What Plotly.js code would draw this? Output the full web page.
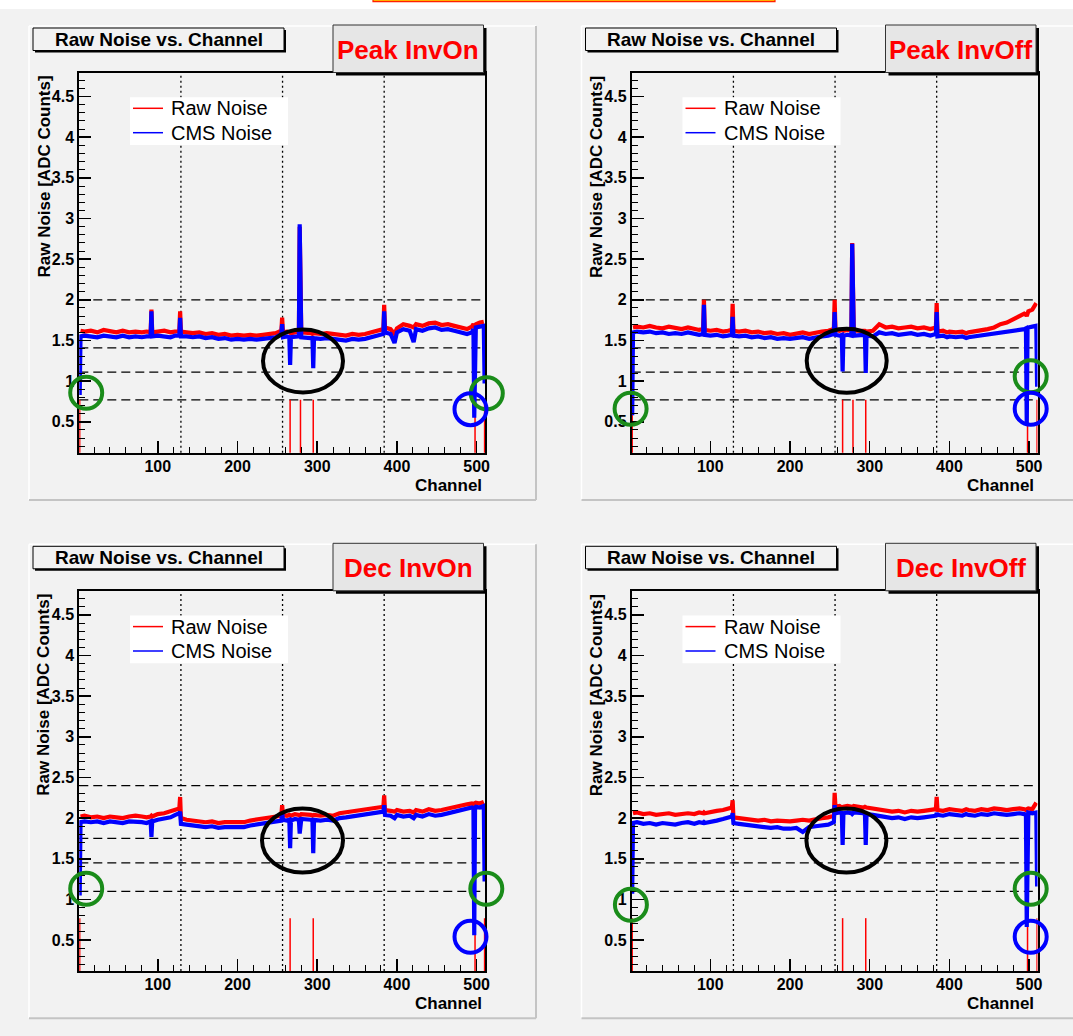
<!DOCTYPE html>
<html>
<head>
<meta charset="utf-8">
<script src="https://cdn.plot.ly/plotly-3.0.1.min.js"></script>
<style>
html,body{margin:0;padding:0;background:#f2f2f2;}
#chart{width:1073px;height:1036px;}
</style>
</head>
<body>
<div id="chart"></div>
<script>
// ---------------- DATA ----------------
const channels = [
  2,3,8,16,24,32,40,48,56,64,
  72,80,86,91,92,93,100,108,116,122,
  127,128,129,136,144,152,160,168,176,184,
  192,200,208,216,224,232,240,248,255,256,
  257,262,265,266,267,272,277,278,279,280,
  292,294,295,296,304,312,320,328,336,344,
  352,360,368,376,383,384,385,392,397,400,
  408,416,421,424,432,440,448,456,464,472,
  480,488,494,496,497,498,499,504,509,510];

const panelLabels = ["Peak InvOn", "Peak InvOff", "Dec InvOn", "Dec InvOff"];
const plotTitle = "Raw Noise vs. Channel";
const xTitle = "Channel";
const yTitle = "Raw Noise [ADC Counts]";
const seriesNames = ["Raw Noise", "CMS Noise"];

const rawPeakInvOn = [
  null,1.62,1.61,1.62,1.60,1.63,1.61,1.60,1.62,1.60,
  1.61,1.60,1.61,1.60,1.88,1.60,1.61,1.62,1.60,1.61,
  1.62,1.86,1.61,1.60,1.59,1.60,1.58,1.59,1.57,1.58,
  1.56,1.57,1.56,1.57,1.56,1.57,1.58,1.59,1.62,1.78,
  1.60,1.61,1.60,null,1.59,1.60,1.61,2.90,null,1.60,
  1.59,1.58,null,1.59,1.58,1.59,1.58,1.57,1.56,1.58,
  1.57,1.58,1.60,1.62,1.64,1.94,1.66,1.64,1.58,1.65,
  1.70,1.68,1.66,1.70,1.68,1.71,1.72,1.69,1.70,1.68,
  1.66,1.64,1.67,1.70,1.68,null,1.70,1.72,1.73,null];
const cmsPeakInvOn = [
  0.83,1.55,1.56,1.55,1.54,1.56,1.55,1.54,1.56,1.54,
  1.55,1.54,1.55,1.55,1.86,1.55,1.56,1.55,1.54,1.56,
  1.56,1.78,1.55,1.55,1.54,1.55,1.53,1.54,1.52,1.53,
  1.51,1.52,1.51,1.52,1.51,1.52,1.53,1.54,1.58,1.70,
  1.54,1.55,1.54,1.20,1.54,1.55,1.55,2.93,1.55,1.54,
  1.53,1.53,1.16,1.53,1.52,1.53,1.52,1.51,1.50,1.52,
  1.51,1.52,1.54,1.56,1.58,1.86,1.60,1.58,1.47,1.60,
  1.64,1.62,1.48,1.64,1.62,1.65,1.66,1.63,1.64,1.62,
  1.60,1.58,1.60,1.64,0.55,1.64,1.66,1.67,1.68,0.97];

const rawPeakInvOff = [
  null,1.66,1.67,1.66,1.68,1.66,1.65,1.67,1.65,1.64,
  1.66,1.65,1.63,1.64,2.00,1.63,1.62,1.63,1.61,1.62,
  1.63,1.95,1.62,1.61,1.62,1.60,1.61,1.59,1.60,1.58,
  1.59,1.57,1.59,1.60,1.58,1.60,1.61,1.62,1.64,2.00,
  1.63,1.62,1.63,null,1.62,1.63,1.62,2.70,null,1.62,
  1.63,1.62,null,1.61,1.62,1.70,1.66,1.67,1.65,1.66,
  1.67,1.65,1.66,1.64,1.66,1.96,1.61,1.62,1.60,1.61,
  1.60,1.61,1.59,1.60,1.61,1.62,1.64,1.66,1.70,1.72,
  1.76,1.79,1.83,1.82,1.80,null,1.86,1.88,1.96,null];
const cmsPeakInvOff = [
  0.58,1.60,1.61,1.60,1.61,1.59,1.60,1.58,1.59,1.58,
  1.60,1.58,1.57,1.58,1.94,1.57,1.56,1.57,1.55,1.56,
  1.57,1.79,1.56,1.55,1.56,1.54,1.55,1.53,1.54,1.52,
  1.53,1.52,1.53,1.54,1.52,1.54,1.55,1.56,1.58,1.85,
  1.57,1.56,1.57,1.12,1.56,1.57,1.56,2.69,1.57,1.56,
  1.57,1.56,1.10,1.56,1.55,1.60,1.58,1.59,1.57,1.58,
  1.59,1.57,1.58,1.56,1.58,1.85,1.55,1.56,1.54,1.55,
  1.54,1.55,1.53,1.54,1.55,1.56,1.57,1.58,1.60,1.61,
  1.62,1.63,1.64,1.65,0.46,1.64,1.66,1.67,1.68,0.93];

const rawDecInvOn = [
  null,2.02,2.03,2.01,2.02,2.00,2.02,2.01,2.00,2.02,
  2.03,2.02,2.01,2.02,2.03,2.02,2.05,2.06,2.08,2.10,
  2.12,2.26,2.00,1.98,1.97,1.96,1.95,1.96,1.94,1.95,
  1.95,1.96,1.95,1.97,1.98,1.99,2.00,2.01,2.03,2.16,
  2.04,2.03,2.04,null,2.03,2.05,2.04,2.03,2.04,2.05,
  2.04,2.03,null,2.04,2.03,2.04,2.03,2.06,2.07,2.08,
  2.09,2.10,2.12,2.13,2.14,2.28,2.10,2.09,2.08,2.10,
  2.08,2.09,2.07,2.10,2.08,2.11,2.09,2.10,2.12,2.13,
  2.15,2.17,2.18,2.17,2.18,null,2.19,2.18,2.20,null];
const cmsDecInvOn = [
  1.05,1.95,1.96,1.95,1.96,1.94,1.96,1.95,1.94,1.96,
  1.96,1.95,1.94,1.96,1.77,1.96,1.98,1.99,2.01,2.04,
  2.06,2.08,1.93,1.92,1.91,1.90,1.89,1.90,1.88,1.89,
  1.89,1.90,1.89,1.91,1.92,1.93,1.94,1.95,1.97,2.07,
  1.98,1.97,1.98,1.63,1.97,1.99,1.98,1.81,1.98,1.99,
  1.98,1.97,1.57,1.98,1.97,1.98,1.97,2.00,2.01,2.02,
  2.03,2.04,2.06,2.07,2.08,2.16,2.04,2.03,2.00,2.04,
  2.02,2.03,2.00,2.04,2.02,2.05,2.03,2.04,2.06,2.07,
  2.09,2.11,2.13,2.12,0.56,2.13,2.14,2.13,2.15,1.22];

const rawDecInvOff = [
  null,2.06,2.07,2.05,2.06,2.04,2.05,2.06,2.04,2.05,
  2.06,2.05,2.07,2.06,2.07,2.06,2.08,2.09,2.10,2.12,
  2.13,2.22,2.01,2.00,1.99,1.98,1.97,1.98,1.96,1.97,
  1.96,1.96,1.97,1.98,1.97,1.99,2.00,2.01,2.03,2.31,
  2.14,2.15,2.13,null,2.14,2.15,2.14,2.13,2.14,2.15,
  2.13,2.14,null,2.13,2.12,2.11,2.10,2.08,2.09,2.07,
  2.09,2.08,2.09,2.10,2.11,2.26,2.10,2.09,2.10,2.11,
  2.10,2.09,2.11,2.10,2.09,2.11,2.10,2.12,2.11,2.10,
  2.11,2.12,2.11,2.10,2.11,null,2.12,2.11,2.19,null];
const cmsDecInvOff = [
  1.07,1.94,1.95,1.93,1.94,1.92,1.94,1.93,1.92,1.94,
  1.95,1.93,1.95,1.94,1.95,1.94,1.96,1.97,1.99,2.01,
  2.02,2.06,1.94,1.93,1.92,1.91,1.90,1.89,1.88,1.89,
  1.87,1.87,1.88,1.83,1.89,1.90,1.91,1.92,1.95,2.16,
  2.06,2.07,2.06,1.67,2.06,2.07,2.06,2.05,2.06,2.07,
  2.06,2.05,1.67,2.05,2.04,2.03,2.02,2.00,2.01,1.99,
  2.01,2.00,2.01,2.02,2.03,2.06,2.04,2.03,2.04,2.05,
  2.04,2.03,2.05,2.04,2.03,2.05,2.04,2.06,2.05,2.04,
  2.05,2.06,2.05,2.04,0.66,2.06,2.07,2.06,2.07,1.16];

// dead (zero raw noise) channels and the height of their error bar
const deadPeakInvOn  = [2, 266, 279, 295, 498, 510];
const deadPeakInvOff = [2, 266, 279, 295, 498, 510];
const deadDecInvOn   = [2, 266, 295, 498, 510];
const deadDecInvOff  = [2, 266, 295, 498, 510];
const deadValue = 0;
const deadError = 0.77;

// horizontal cut levels and chip boundaries
const cutsPeak = [2.00, 1.41, 1.11, 0.77];
const cutsDec  = [2.40, 1.75, 1.45, 1.10];
const chipEdges = [129, 256.5, 384];

const xRange = [1.5, 510.5];
const yRange = [0.12, 4.79];

// ---------------- STYLE / LAYOUT ----------------
const W = 1073, H = 1036;
const X = p => p / W;
const Y = p => 1 - p / H;
const FONT = "Liberation Sans, Arial, Helvetica, sans-serif";
const RED = "#ff0000", BLUE = "#0000ff", GREEN = "#1a8c1a";

const panels = [
  {raw: rawPeakInvOn,  cms: cmsPeakInvOn,  dead: deadPeakInvOn,  cuts: cutsPeak, dx: 0,     dy: 0},
  {raw: rawPeakInvOff, cms: cmsPeakInvOff, dead: deadPeakInvOff, cuts: cutsPeak, dx: 552.5, dy: 0},
  {raw: rawDecInvOn,   cms: cmsDecInvOn,   dead: deadDecInvOn,   cuts: cutsDec,  dx: 0,     dy: 518.3},
  {raw: rawDecInvOff,  cms: cmsDecInvOff,  dead: deadDecInvOff,  cuts: cutsDec,  dx: 552.5, dy: 518.3}
];

// base geometry (top-left panel, pixels)
const frame = {L: 79.3, R: 485, T: 73, B: 452.7};
const pad = {L: 29, R: 536, T: 26, B: 500};
const titleBox = {L: 33, R: 284, T: 28, B: 50.5};
const labelBox = {L: 333, R: 483.5, T: 25, B: 72.5};
const legendBox = {L: 130, R: 288, T: 97.3, B: 145};

// highlight circles (pixels): [cx, cy, rx, ry, colour]
const circles = [
  [[86.2,392.8,16,16,GREEN],[486.8,393.3,16,16,GREEN],[470.5,409.2,16,16,BLUE],[303,361,40,31.5,"black"]],
  [[630.6,408.8,16,16,GREEN],[1030.7,376.3,16,16,GREEN],[1030.7,408.8,16,16,BLUE],[846.7,360.8,40,32,"black"]],
  [[86.2,888.8,16,16,GREEN],[486.3,888.8,16,16,GREEN],[470.5,936.8,16,16,BLUE],[302.5,840.5,40.5,32,"black"]],
  [[630.9,904.8,16,16,GREEN],[1030.7,888.8,16,16,GREEN],[1030.7,936.8,16,16,BLUE],[846.4,840.5,40,32,"black"]]
];

const traces = [];
const shapes = [];
const annotations = [];
const layout = {
  width: W, height: H,
  margin: {l: 0, r: 0, t: 0, b: 0},
  paper_bgcolor: "#f2f2f2",
  plot_bgcolor: "rgba(0,0,0,0)",
  showlegend: false,
  hovermode: false,
  font: {family: FONT, color: "black"}
};

function prect(L, T, R, B, fill, lineColor, lineWidth, layer) {
  shapes.push({type: "rect", xref: "paper", yref: "paper",
    x0: X(L), x1: X(R), y0: Y(B), y1: Y(T),
    fillcolor: fill, line: {color: lineColor || "rgba(0,0,0,0)", width: lineWidth || 0},
    layer: layer || "above"});
}
function pline(x0, y0, x1, y1, color, width, layer) {
  shapes.push({type: "line", xref: "paper", yref: "paper",
    x0: X(x0), x1: X(x1), y0: Y(y0), y1: Y(y1),
    line: {color: color, width: width}, layer: layer || "above"});
}

// page top strip and clipped header box
prect(0, -5, W, 9, "#ffffff", null, 0, "below");
prect(373, -8, 775, 1.7, "#ffb000", "#ff2000", 1.2, "below");

panels.forEach((p, i) => {
  const n = i === 0 ? "" : String(i + 1);
  const xa = "x" + n, ya = "y" + n;
  const dx = p.dx, dy = p.dy;

  const axCommon = {
    showgrid: false, zeroline: false, showline: true, linecolor: "black", linewidth: 2,
    mirror: true, ticks: "inside", ticklen: 12, tickwidth: 1.5, tickcolor: "black",
    tickfont: {family: FONT, size: 16, color: "black", weight: "bold"},
    fixedrange: true
  };
  layout["xaxis" + n] = Object.assign({}, axCommon, {
    domain: [X(frame.L + dx), X(frame.R + dx)], anchor: ya,
    range: xRange, tick0: 0, dtick: 100, ticklabelstandoff: -2,
    minor: {ticks: "inside", ticklen: 6, tickwidth: 1, tickcolor: "black", tick0: 0, dtick: 20, showgrid: false}
  });
  layout["yaxis" + n] = Object.assign({}, axCommon, {
    domain: [Y(frame.B + dy), Y(frame.T + dy)], anchor: xa,
    range: yRange, tick0: 0, dtick: 0.5,
    minor: {ticks: "inside", ticklen: 6, tickwidth: 1, tickcolor: "black", tick0: 0, dtick: 0.1, showgrid: false}
  });

  // pad bevel
  pline(pad.L + dx, pad.T + dy, pad.R + dx, pad.T + dy, "#ffffff", 1.5, "below");
  pline(pad.L + dx, pad.T + dy, pad.L + dx, pad.B + dy, "#ffffff", 1.5, "below");
  pline(pad.L + dx, pad.B + dy, pad.R + dx, pad.B + dy, "#c4c4c4", 2, "below");
  pline(pad.R + dx, pad.T + dy, pad.R + dx, pad.B + dy, "#c4c4c4", 2, "below");

  // cut levels (dashed) and chip edges (dotted)
  p.cuts.forEach(v => shapes.push({type: "line", xref: xa + " domain", yref: ya,
    x0: 0, x1: 1, y0: v, y1: v, line: {color: "black", width: 1.3, dash: "9px,5px"}, layer: "below"}));
  chipEdges.forEach(c => shapes.push({type: "line", xref: xa, yref: ya + " domain",
    x0: c, x1: c, y0: 0, y1: 1, line: {color: "black", width: 1.3, dash: "2px,3px"}, layer: "below"}));

  // traces
  traces.push({x: channels, y: p.raw, xaxis: xa, yaxis: ya, type: "scatter", mode: "lines",
    name: seriesNames[0], connectgaps: true, line: {color: RED, width: 4.2}, hoverinfo: "skip"});
  const dxs = [], dys = [];
  p.dead.forEach(c => { dxs.push(c, c, null); dys.push(deadValue, deadValue + deadError, null); });
  traces.push({x: dxs, y: dys, xaxis: xa, yaxis: ya, type: "scatter", mode: "lines",
    name: seriesNames[0] + " (dead)", connectgaps: false, line: {color: RED, width: 1.5}, hoverinfo: "skip"});
  traces.push({x: channels, y: p.cms, xaxis: xa, yaxis: ya, type: "scatter", mode: "lines",
    name: seriesNames[1], connectgaps: true, line: {color: BLUE, width: 4.2}, hoverinfo: "skip"});

  // legend box
  prect(legendBox.L + dx, legendBox.T + dy, legendBox.R + dx, legendBox.B + dy, "#ffffff", null, 0, "above");
  pline(133 + dx, 108.3 + dy, 163 + dx, 108.3 + dy, RED, 1.5);
  pline(133 + dx, 132.7 + dy, 163 + dx, 132.7 + dy, BLUE, 1.5);
  annotations.push({xref: "paper", yref: "paper", x: X(169 + dx), y: Y(108.3 + dy), xanchor: "left", yanchor: "middle",
    text: seriesNames[0], showarrow: false, font: {family: FONT, size: 20, color: "black"}});
  annotations.push({xref: "paper", yref: "paper", x: X(169 + dx), y: Y(132.7 + dy), xanchor: "left", yanchor: "middle",
    text: seriesNames[1], showarrow: false, font: {family: FONT, size: 20, color: "black"}});

  // title box with shadow
  prect(titleBox.L + 2 + dx, titleBox.T + 2 + dy, titleBox.R + 2 + dx, titleBox.B + 2 + dy, "#000000", null, 0);
  prect(titleBox.L + dx, titleBox.T + dy, titleBox.R + dx, titleBox.B + dy, "#f2f2f2", "#000000", 1);
  annotations.push({xref: "paper", yref: "paper", x: X((titleBox.L + titleBox.R) / 2 + dx), y: Y(39.5 + dy),
    xanchor: "center", yanchor: "middle", text: plotTitle, showarrow: false,
    font: {family: FONT, size: 19, color: "black", weight: "bold"}});

  // label box with shadow
  prect(labelBox.L + 3 + dx, labelBox.T + 3 + dy, labelBox.R + 3 + dx, labelBox.B + 3 + dy, "#000000", null, 0);
  prect(labelBox.L + dx, labelBox.T + dy, labelBox.R + dx, labelBox.B + dy, "#e6e6e6", "#333333", 1);
  annotations.push({xref: "paper", yref: "paper", x: X((labelBox.L + labelBox.R) / 2 + dx), y: Y(50 + dy),
    xanchor: "center", yanchor: "middle", text: panelLabels[i], showarrow: false,
    font: {family: FONT, size: 26, color: RED, weight: "bold"}});

  // axis titles
  annotations.push({xref: "paper", yref: "paper", x: X(43.5 + dx), y: Y(177 + dy), xanchor: "center", yanchor: "middle",
    textangle: -90, text: yTitle, showarrow: false, font: {family: FONT, size: 17, color: "black", weight: "bold"}});
  annotations.push({xref: "paper", yref: "paper", x: X(483.5 + dx), y: Y(485 + dy), xanchor: "right", yanchor: "middle",
    text: xTitle, showarrow: false, font: {family: FONT, size: 17, color: "black", weight: "bold"}});

  // highlight circles
  circles[i].forEach(c => shapes.push({type: "circle", xref: "paper", yref: "paper",
    x0: X(c[0] - c[2]), x1: X(c[0] + c[2]), y0: Y(c[1] + c[3]), y1: Y(c[1] - c[3]),
    line: {color: c[4], width: 4}, fillcolor: "rgba(0,0,0,0)", layer: "above"}));
});

layout.shapes = shapes;
layout.annotations = annotations;

Plotly.newPlot("chart", traces, layout, {staticPlot: true, displayModeBar: false});
</script>
</body>
</html>
